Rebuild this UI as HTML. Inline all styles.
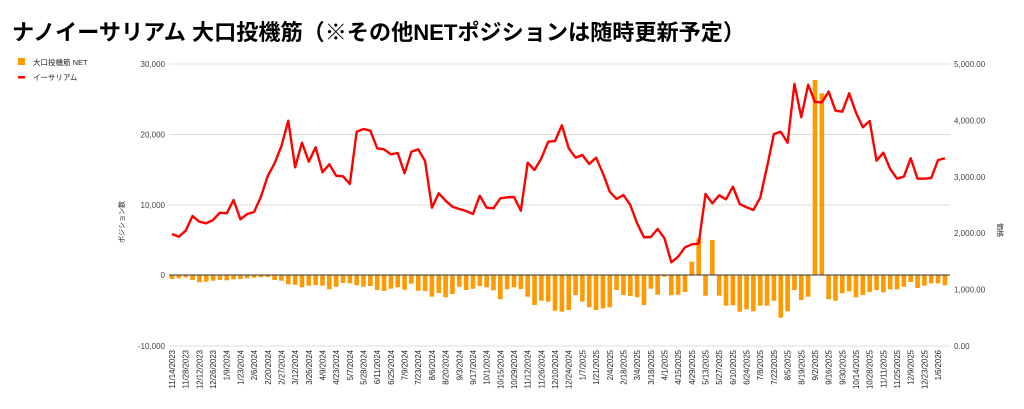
<!DOCTYPE html>
<html><head><meta charset="utf-8"><style>
html,body{margin:0;padding:0;background:#fff;width:1024px;height:409px;overflow:hidden}
svg{display:block;font-family:"Liberation Sans","Noto Sans CJK JP",sans-serif}
</style></head><body>
<svg id="c" width="1024" height="409" xmlns="http://www.w3.org/2000/svg">
<text x="12" y="40" font-size="22" font-weight="bold" fill="#000" textLength="733" lengthAdjust="spacingAndGlyphs">ナノイーサリアム 大口投機筋（※その他NETポジションは随時更新予定）</text>
<rect x="18" y="58" width="7" height="7" fill="#ff9900"/>
<text x="33" y="65" font-size="7.5" fill="#222">大口投機筋  NET</text>
<rect x="18" y="76" width="7" height="2.5" fill="#ff0000"/>
<text x="33" y="80" font-size="7.5" fill="#222">イーサリアム</text>
<g id="g"></g>
</svg>
<script>
var g=document.getElementById('g'),h='';
[[64,'30,000'],[134.5,'20,000'],[205,'10,000'],[275,'0'],[346,'-10,000']].forEach(function(a){
 if(a[1]!=='0')h+='<line x1="169" x2="950" y1="'+a[0]+'" y2="'+a[0]+'" stroke="#ddd" stroke-width="1"/>';
 h+='<text x="165" y="'+(a[0]+3)+'" font-size="8" fill="#444" text-anchor="end">'+a[1]+'</text>';
});
['5,000.00','4,000.00','3,000.00','2,000.00','1,000.00','0.00'].forEach(function(t,i){
 h+='<text x="954" y="'+(64+i*56.4+3)+'" font-size="8" fill="#444">'+t+'</text>';
});
h+='<text transform="translate(124,222) rotate(-90)" font-size="7" fill="#222" text-anchor="middle">ポジション数</text>';
h+='<text transform="translate(998,230) rotate(90)" font-size="7" fill="#222" text-anchor="middle">価格</text>';
var bars=[-4,-3.3,-2.3,-5,-7.3,-6.7,-5.7,-5,-5.3,-4.3,-4,-3.3,-2.7,-2.3,-2,-5,-5.7,-9.3,-9.7,-12.3,-10.7,-10,-10.7,-14.3,-11.7,-8,-8.3,-10.3,-11.7,-11,-15,-16,-13.7,-12.3,-14.7,-8.7,-15.7,-16,-21.7,-18,-22.3,-19,-11.7,-15,-13.7,-11,-12.3,-15.3,-24.3,-14.3,-12.3,-14,-21.7,-30,-25.7,-26.7,-35.7,
-36.7,-35,-20,-26.7,-32.3,-35,-33.3,-32.3,-15,-20,-21,-22.3,-30,-13.7,-19.7,-1.7,-20.3,-19.7,-17,13.3,36.7,-20.7,35,-20.7,-30.7,-30.3,-36.7,-34.3,-36.3,-30.7,-30.7,-25.7,-42.7,-36.3,-15,-25,-21.7,195,181.7,-24.3,-25.7,-18.3,-16.3,-22.3,-20,-17,-15,-17.3,-14.3,-14.3,-11.7,-7,-13,-10.7,-8.3,-8.3,-10.3];
var line=[234,236.7,230.7,216,221.7,223.3,220,212.7,213.3,200,219.3,214,212,196.7,176,163.3,146,120.7,167.3,142.7,161.7,147.3,172.3,164.3,175.7,176.3,184,131.7,129,130.7,148.3,149.3,154.3,153,173.3,151.7,149.3,161,207.7,193.3,200.7,206.7,209,211,214,195.7,207.7,208.3,198.3,197.3,197,210.7,162.7,170,158.3,141.7,141,125.3,
148.3,157.7,155,164,157.7,173.3,191.7,199,195,205,223.3,237.3,237,229,238.3,262.3,256.7,247.3,244.3,243.7,194,203.3,195.3,199.3,186.7,204,207.3,210,197.7,166.7,134,131.7,142.7,84,117.3,84.7,102,102.3,91.7,110.7,111.7,93.3,112.7,127.3,121,160.7,152.7,169,178.7,176.7,158.3,178.7,178.7,178,160,158.3];
function X(i){return 172+i*6.84;}
bars.forEach(function(v,i){
 var y=v<0?275:275-v, hh=Math.abs(v);
 h+='<rect x="'+(X(i)-2.3).toFixed(2)+'" y="'+y+'" width="4.6" height="'+hh+'" fill="#ff9900"/>';
});
h+='<line x1="169" x2="950" y1="275" y2="275" stroke="#333" stroke-width="1"/>';
var p=line.map(function(y,i){return X(i).toFixed(2)+','+y;}).join(' ');
h+='<polyline points="'+p+'" fill="none" stroke="#ff0000" stroke-width="2.4" stroke-linejoin="round"/>';
var labels=['11/14/2023','11/28/2023','12/12/2023','12/26/2023','1/9/2024','1/23/2024','2/6/2024','2/20/2024','2/27/2024','3/12/2024','3/26/2024','4/9/2024','4/23/2024','5/7/2024','5/28/2024','6/11/2024','6/25/2024','7/9/2024','7/23/2024','8/6/2024','8/20/2024','9/3/2024','9/17/2024','10/1/2024','10/15/2024','10/29/2024','11/12/2024','11/26/2024','12/10/2024','12/24/2024','1/7/2025','1/21/2025','2/4/2025','2/18/2025','3/4/2025','3/18/2025','4/1/2025','4/15/2025','4/29/2025','5/13/2025','5/27/2025','6/10/2025','6/24/2025','7/8/2025','7/22/2025','8/5/2025','8/19/2025','9/2/2025','9/16/2025','9/30/2025','10/14/2025','10/28/2025','11/11/2025','11/25/2025','12/9/2025','12/23/2025','1/6/2026'];
labels.forEach(function(t,k){
 var i=k*2;
 h+='<text transform="translate('+(X(i)+3).toFixed(2)+',350) rotate(-90)" font-size="7.8" fill="#222" text-anchor="end">'+t+'</text>';
});
g.innerHTML=h;
</script>
</body></html>
